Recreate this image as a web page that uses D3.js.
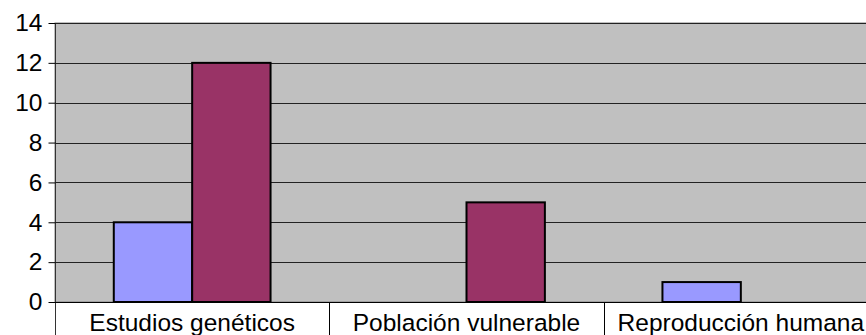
<!DOCTYPE html>
<html>
<head>
<meta charset="utf-8">
<script src="https://cdn.jsdelivr.net/npm/d3@7"></script>
<style>
  body { margin: 0; background: #fff; }
  svg { display: block; font-family: "Liberation Sans", Arial, sans-serif; }
</style>
</head>
<body>
<div id="chart"></div>
<script>
// chart data
const categories = ["Estudios genéticos", "Población vulnerable", "Reproducción humana"];
const seriesNames = ["Serie 1", "Serie 2"];
const serie1 = [4, 0, 1];
const serie2 = [12, 5, 0];
const yTicks = [0, 2, 4, 6, 8, 10, 12, 14];
const colors = ["#9999FF", "#993366"];

const width = 866, height = 335;
const margin = {top: 23, right: -12, bottom: 33, left: 55};

const svg = d3.select("#chart")
    .append("svg")
    .attr("width", width)
    .attr("height", height);

const x0 = d3.scaleBand()
    .domain(categories)
    .range([margin.left, width - margin.right])
    .paddingInner(0)
    .paddingOuter(0);

const bw = x0.bandwidth();
const x1 = d3.scaleBand()
    .domain(seriesNames)
    .range([bw * 0.75 / 3.5, bw - bw * 0.75 / 3.5]);

const y = d3.scaleLinear()
    .domain([0, 14])
    .range([height - margin.bottom, margin.top]);

// plot background
svg.append("rect")
    .attr("x", margin.left)
    .attr("y", y(14))
    .attr("width", width - margin.right - margin.left)
    .attr("height", y(0) - y(14))
    .attr("fill", "#C0C0C0")
    .attr("stroke", "#808080")
    .attr("stroke-width", 1);

// gridlines
svg.append("g")
    .selectAll("line")
    .data(yTicks.filter(d => d > 0))
    .enter()
    .append("line")
    .attr("x1", margin.left)
    .attr("x2", width - margin.right)
    .attr("y1", d => Math.round(y(d)) + 0.5)
    .attr("y2", d => Math.round(y(d)) + 0.5)
    .attr("stroke", "#222")
    .attr("stroke-width", 1);

// y axis
const yAxis = svg.append("g")
    .attr("transform", `translate(${margin.left + 0.5},0)`)
    .call(d3.axisLeft(y).tickValues(yTicks).tickSize(7).tickPadding(6).tickSizeOuter(0));
yAxis.select(".domain").attr("stroke", "#333");
yAxis.selectAll(".tick line").attr("stroke", "#000");
yAxis.selectAll(".tick text")
    .attr("font-size", 24.5)
    .attr("fill", "#000")
    .attr("font-family", "Liberation Sans, Arial, sans-serif");
yAxis.select(".domain").attr("d", `M0,${y(14)}V${height}`);

// bars
const data = categories.map((c, i) => ({cat: c, values: [serie1[i], serie2[i]]}));
const groups = svg.append("g")
    .selectAll("g")
    .data(data)
    .enter()
    .append("g")
    .attr("transform", d => `translate(${x0(d.cat)},0)`);

groups.selectAll("rect")
    .data(d => d.values.map((v, j) => ({name: seriesNames[j], value: v, j: j})).filter(e => e.value > 0))
    .enter()
    .append("rect")
    .attr("x", d => x1(d.name))
    .attr("y", d => y(d.value))
    .attr("width", x1.bandwidth())
    .attr("height", d => y(0) - y(d.value))
    .attr("fill", d => colors[d.j])
    .attr("stroke", "#000")
    .attr("stroke-width", 2);

// category axis
svg.append("line")
    .attr("x1", margin.left)
    .attr("x2", width)
    .attr("y1", y(0) + 0.5)
    .attr("y2", y(0) + 0.5)
    .attr("stroke", "#000");

svg.append("g")
    .selectAll("line")
    .data(categories.slice(1))
    .enter()
    .append("line")
    .attr("x1", d => Math.round(x0(d)) + 0.5)
    .attr("x2", d => Math.round(x0(d)) + 0.5)
    .attr("y1", y(0))
    .attr("y2", height)
    .attr("stroke", "#000");

svg.append("g")
    .selectAll("text")
    .data(categories)
    .enter()
    .append("text")
    .attr("x", d => x0(d) + bw / 2)
    .attr("y", 331)
    .attr("text-anchor", "middle")
    .attr("font-size", 24.5)
    .attr("fill", "#000")
    .text(d => d);
</script>
</body>
</html>
